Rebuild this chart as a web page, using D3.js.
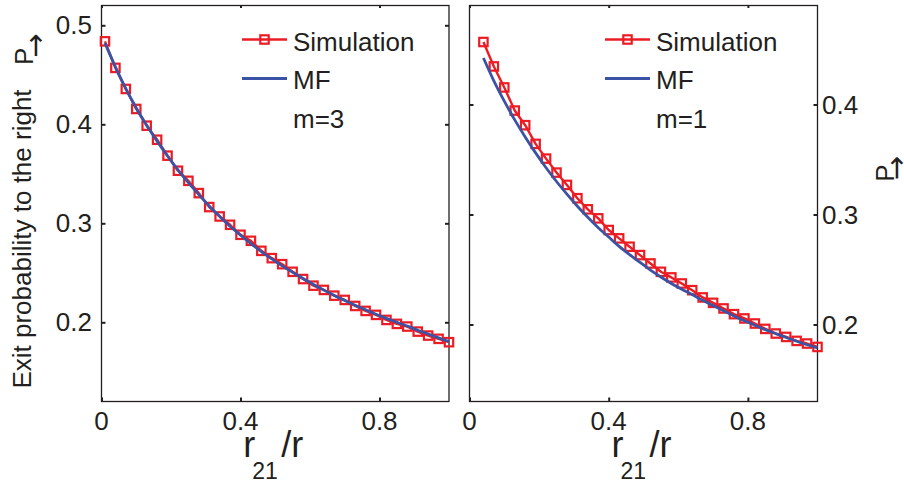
<!DOCTYPE html>
<html>
<head>
<meta charset="utf-8">
<script src="https://cdn.jsdelivr.net/npm/d3@7"></script>
<style>
  html, body { margin: 0; padding: 0; background: #fff; }
  svg { display: block; }
  text { font-family: "Liberation Sans", Arial, Helvetica, sans-serif; fill: #231f20; }
</style>
</head>
<body>
<svg id="chart" width="904" height="483"></svg>
<script>
// ---------- data ----------
const leftX = [0.01,0.04,0.07,0.10,0.13,0.16,0.19,0.22,0.25,0.28,0.31,0.34,0.37,0.40,0.43,0.46,0.49,0.52,0.55,0.58,0.61,0.64,0.67,0.70,0.73,0.76,0.79,0.82,0.85,0.88,0.91,0.94,0.97,1.00];
const leftSim = [0.4838,0.4570,0.4357,0.4155,0.3986,0.3844,0.3683,0.3531,0.3429,0.3305,0.3164,0.3069,0.2985,0.2884,0.2823,0.2722,0.2648,0.2587,0.2510,0.2437,0.2370,0.2327,0.2269,0.2226,0.2165,0.2115,0.2075,0.2024,0.1984,0.1957,0.1906,0.1866,0.1833,0.1799];
const leftMF = [0.4820,0.4580,0.4360,0.4165,0.3990,0.3830,0.3680,0.3540,0.3410,0.3290,0.3175,0.3070,0.2970,0.2880,0.2795,0.2715,0.2640,0.2570,0.2505,0.2442,0.2382,0.2325,0.2271,0.2220,0.2172,0.2126,0.2082,0.2040,0.2000,0.1962,0.1920,0.1882,0.1843,0.1805];

const rightX = [0.04,0.07,0.10,0.13,0.16,0.19,0.22,0.25,0.28,0.31,0.34,0.37,0.40,0.43,0.46,0.49,0.52,0.55,0.58,0.61,0.64,0.67,0.70,0.73,0.76,0.79,0.82,0.85,0.88,0.91,0.94,0.97,1.00];
const rightSim = [0.4568,0.4346,0.4155,0.3945,0.3812,0.3642,0.3508,0.3381,0.3269,0.3148,0.3047,0.2965,0.2859,0.2783,0.2707,0.2631,0.2555,0.2479,0.2428,0.2373,0.2312,0.2246,0.2197,0.2146,0.2094,0.2055,0.2009,0.1960,0.1918,0.1887,0.1851,0.1827,0.1796];
const rightMF = [0.4423,0.4215,0.4030,0.3860,0.3705,0.3560,0.3425,0.3300,0.3185,0.3075,0.2975,0.2880,0.2795,0.2710,0.2635,0.2565,0.2495,0.2432,0.2373,0.2320,0.2272,0.2220,0.2172,0.2125,0.2078,0.2034,0.1993,0.1953,0.1917,0.1882,0.1848,0.1816,0.1787];

const xTicks = [0, 0.4, 0.8];
const xTickLabels = ["0", "0.4", "0.8"];
const leftYTicks = [0.2, 0.3, 0.4, 0.5];
const leftYTickLabels = ["0.2", "0.3", "0.4", "0.5"];
const rightYTicks = [0.2, 0.3, 0.4];
const rightYTickLabels = ["0.2", "0.3", "0.4"];
const legendLabels = ["Simulation", "MF"];
const paramLabels = ["m=3", "m=1"];
const yLabelText = "Exit probability to the right";

// ---------- styles ----------
const RED = "#ec1c24", BLUE = "#3a53a4", INK = "#231f20";
const svg = d3.select("#chart");

function panel(cfg) {
  const x = d3.scaleLinear().domain([0, 1]).range([cfg.x0, cfg.x1]);
  const y = d3.scaleLinear().domain(cfg.yDomain).range([cfg.y1, cfg.y0]);
  const g = svg.append("g");

  // ticks (inward, all sides) via d3 axes
  const tl = 4;
  const tickStyle = s => { s.select(".domain").remove(); s.selectAll("line").attr("stroke", INK).attr("stroke-width", 2); };
  g.append("g").attr("transform", `translate(0,${cfg.y1})`)
    .call(d3.axisTop(x).tickValues(xTicks).tickSize(tl).tickFormat("")).call(tickStyle);
  g.append("g").attr("transform", `translate(0,${cfg.y0})`)
    .call(d3.axisBottom(x).tickValues(xTicks).tickSize(2.5).tickFormat("")).call(tickStyle);
  g.append("g").attr("transform", `translate(${cfg.x0},0)`)
    .call(d3.axisRight(y).tickValues(cfg.yTicks).tickSize(tl).tickFormat("")).call(tickStyle);
  g.append("g").attr("transform", `translate(${cfg.x1},0)`)
    .call(d3.axisLeft(y).tickValues(cfg.yTicks).tickSize(tl).tickFormat("")).call(tickStyle);

  // box
  g.append("rect").attr("x", cfg.x0).attr("y", cfg.y0)
    .attr("width", cfg.x1 - cfg.x0).attr("height", cfg.y1 - cfg.y0)
    .attr("fill", "none").attr("stroke", INK).attr("stroke-width", 1.3);

  // x tick labels
  g.selectAll(".xtl").data(xTicks).enter().append("text")
    .attr("x", d => x(d)).attr("y", 430)
    .attr("text-anchor", "middle").attr("font-size", 26)
    .text((d, i) => xTickLabels[i]);

  // y tick labels
  g.selectAll(".ytl").data(cfg.yTicks).enter().append("text")
    .attr("x", cfg.labelSide === "left" ? cfg.x0 - 9.5 : cfg.x1 + 4.5)
    .attr("y", d => y(d)).attr("dy", "0.35em")
    .attr("text-anchor", cfg.labelSide === "left" ? "end" : "start")
    .attr("font-size", 26)
    .text((d, i) => cfg.yTickLabels[i]);

  // x axis label r_21 /r
  const cx = (cfg.x0 + cfg.x1) / 2;
  const xl = g.append("text").attr("y", 457);
  xl.append("tspan").attr("x", cx - 32).attr("font-size", 36).text("r");
  xl.append("tspan").attr("x", cx - 23).attr("dy", 22).attr("font-size", 23).text("21");
  xl.append("tspan").attr("x", cx + 6).attr("dy", -22).attr("font-size", 36).text("/r");

  // series
  const pts = cfg.xs.map((d, i) => [d, cfg.sim[i]]);
  const mf = cfg.xs.map((d, i) => [d, cfg.mf[i]]);
  const line = d3.line().x(d => x(d[0])).y(d => y(d[1]));
  g.append("path").attr("d", line(pts)).attr("fill", "none")
    .attr("stroke", RED).attr("stroke-width", 2.4).attr("stroke-linejoin", "round");
  g.selectAll(".mk").data(pts).enter().append("rect")
    .attr("x", d => x(d[0]) - 4.2).attr("y", d => y(d[1]) - 4.2)
    .attr("width", 8.4).attr("height", 8.4)
    .attr("fill", "none").attr("stroke", RED).attr("stroke-width", 2.2);
  g.append("path").attr("d", line.curve(d3.curveMonotoneX)(mf)).attr("fill", "none")
    .attr("stroke", BLUE).attr("stroke-width", 2.8).attr("stroke-linecap", "butt");

  // legend
  const lx0 = cfg.legX, lx1 = cfg.legX + 45, ly1 = 39.5, ly2 = 78.5;
  g.append("line").attr("x1", lx0).attr("x2", lx1).attr("y1", ly1).attr("y2", ly1)
    .attr("stroke", RED).attr("stroke-width", 2.4);
  g.append("rect").attr("x", (lx0 + lx1) / 2 - 4.2).attr("y", ly1 - 4.2)
    .attr("width", 8.4).attr("height", 8.4).attr("fill", "none")
    .attr("stroke", RED).attr("stroke-width", 2.2);
  g.append("line").attr("x1", lx0).attr("x2", lx1).attr("y1", ly2).attr("y2", ly2)
    .attr("stroke", BLUE).attr("stroke-width", 2.8);
  g.append("text").attr("x", lx1 + 6).attr("y", 51).attr("font-size", 26).text(legendLabels[0]);
  g.append("text").attr("x", lx1 + 6).attr("y", 88.5).attr("font-size", 26).text(legendLabels[1]);
  g.append("text").attr("x", lx1 + 6).attr("y", 127.5).attr("font-size", 26).text(cfg.param);
}

panel({ x0: 101.5, x1: 449, y0: 5.5, y1: 401.5, yDomain: [0.12, 0.52],
        yTicks: leftYTicks, yTickLabels: leftYTickLabels, labelSide: "left",
        xs: leftX, sim: leftSim, mf: leftMF, legX: 242, param: paramLabels[0] });
panel({ x0: 469.5, x1: 817.5, y0: 5.5, y1: 401.5, yDomain: [0.13, 0.49],
        yTicks: rightYTicks, yTickLabels: rightYTickLabels, labelSide: "right",
        xs: rightX, sim: rightSim, mf: rightMF, legX: 605, param: paramLabels[1] });

// y labels
svg.append("text").attr("transform", "translate(31,239) rotate(-90)")
  .attr("text-anchor", "middle").attr("font-size", 26).text(yLabelText);

function pLabel(bx, by, dx, dy) {
  const t = svg.append("text").attr("transform", `translate(${bx},${by}) rotate(-90)`)
    .attr("font-size", 26);
  t.append("tspan").text("P");
  t.append("tspan").attr("dx", dx).attr("dy", dy)
    .style("font-family", "'DejaVu Sans', sans-serif").attr("font-size", 29).text("\u2192");
}
pLabel(33, 65, -10, 12.3);
pLabel(893.5, 181.7, -16, 12.5);
</script>
</body>
</html>
